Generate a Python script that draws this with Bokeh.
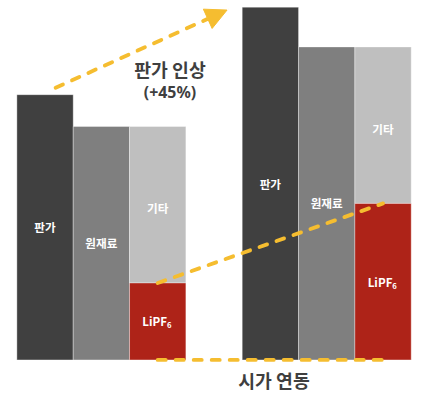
from bokeh.plotting import figure
from bokeh.models import Range1d, Arrow, NormalHead
from bokeh.core.properties import value
from bokeh.embed import file_html
from bokeh.resources import INLINE

# ---- data ----
stages = ["현재", "판가 인상 후"]
price = [100, 133]      # 판가
lipf6 = [29, 59]        # LiPF6 원가
other = [59, 59]        # 기타 원가
raw = [l + o for l, o in zip(lipf6, other)]  # 원재료 (= LiPF6 + 기타)
seg_labels = ["판가", "원재료", "기타", "LiPF"]
note_up = ["판가 인상", "(+45%)"]
note_down = "시가 연동"

# ---- colours / layout ----
DARK, MID, LIGHT, RED, YEL, TXT = "#404040", "#7f7f7f", "#bfbfbf", "#ae2318", "#f5bd30", "#3f3f3f"
FONT = value("Noto Sans CJK KR")
W, H = 416, 394
REF_W, REF_H = 432, 410      # design grid
S = W / REF_W                # pixel scale
PX = 2.76                    # design px per unit
BASE = 374                   # baseline in design px from top
group_left = [17, 251]
bw = 58.5

def fs(px):
    return f"{px * S:.1f}px"

p = figure(width=W, height=H, output_backend="svg", toolbar_location=None,
           x_range=Range1d(0, REF_W), y_range=Range1d(-(REF_H - BASE) / PX, BASE / PX),
           min_border=0)
p.axis.visible = False
p.grid.visible = False
p.outline_line_color = None
p.background_fill_color = "white"
p.border_fill_color = "white"

x1 = [g + bw / 2 for g in group_left]
x2 = [x + bw for x in x1]
x3 = [x + 2 * bw for x in x1]
zeros = [0, 0]

bline = dict(line_color="white", line_alpha=0.35, line_width=1)
p.vbar(x=x1, width=bw, bottom=zeros, top=price, fill_color=DARK, **bline)
p.vbar(x=x2, width=bw, bottom=zeros, top=raw, fill_color=MID, **bline)
p.vbar(x=x3, width=bw, bottom=lipf6, top=raw, fill_color=LIGHT, **bline)
p.vbar(x=x3, width=bw, bottom=zeros, top=lipf6, fill_color=RED, **bline)

# segment labels
lab = dict(text_font=FONT, text_font_style="bold", text_font_size=fs(12), text_color="white",
           text_align="center", text_baseline="middle")
p.text(x=x1, y=[v / 2 for v in price], text=[seg_labels[0]] * 2, **lab)
p.text(x=x2, y=[v / 2 for v in raw], text=[seg_labels[1]] * 2, **lab)
p.text(x=x3, y=[(l + r) / 2 - 1.3 for l, r in zip(lipf6, raw)], text=[seg_labels[2]] * 2, **lab)
p.text(x=x3, y=[l / 2 for l in lipf6], text=[seg_labels[3]] * 2, x_offset=-3, **lab)
p.text(x=x3, y=[l / 2 for l in lipf6], text=["6"] * 2, x_offset=11.5, y_offset=4,
       text_font=FONT, text_font_style="bold", text_font_size=fs(8), text_color="white",
       text_align="center", text_baseline="middle")

# dashed connectors
dash = dict(line_color=YEL, line_width=4 * S, line_dash="8 10", line_cap="round")
p.line(x=x3, y=lipf6, **dash)
p.line(x=x3, y=zeros, **dash)

# price-rise arrow
p.add_layout(Arrow(end=NormalHead(size=22 * S, fill_color=YEL, line_color=YEL, line_width=1),
                   x_start=x1[0] + 11, y_start=price[0] + 2.6,
                   x_end=x1[0] + 189, y_end=price[1] - 1.1,
                   line_color=YEL, line_width=4 * S, line_dash="8 10", line_cap="round"))

# notes
p.text(x=[176], y=[price[0] + 9.7], text=[note_up[0]], text_font=FONT, text_font_style="bold",
       text_font_size=fs(19), text_color=TXT, text_align="center", text_baseline="middle")
p.text(x=[176], y=[price[0] + 1.1], text=[note_up[1]], text_font=value("Noto Sans"), text_font_style="bold",
       text_font_size=fs(16.5), text_color=TXT, text_align="center", text_baseline="middle")
p.text(x=[284], y=[-7.6], text=[note_down], text_font=FONT, text_font_style="bold",
       text_font_size=fs(19), text_color=TXT, text_align="center", text_baseline="middle")

open("out.html", "w").write(file_html(p, INLINE))
